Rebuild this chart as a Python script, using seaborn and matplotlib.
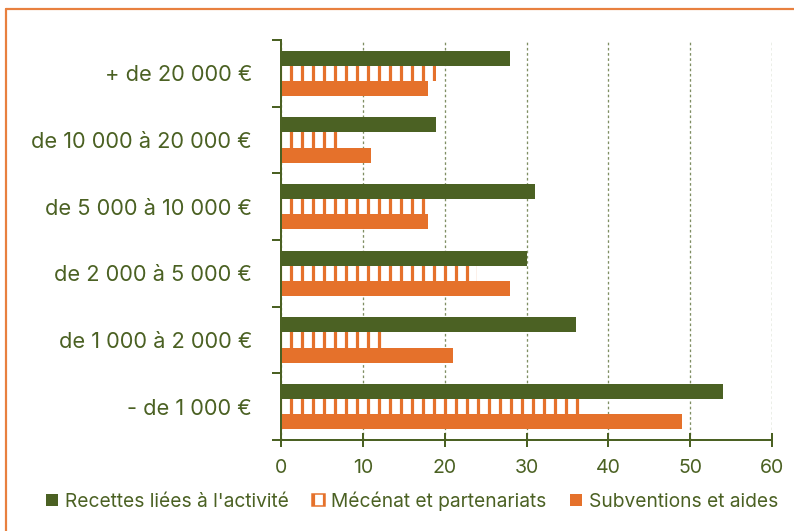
import matplotlib
matplotlib.use("Agg")
import matplotlib.pyplot as plt
import seaborn as sns
import pandas as pd
from matplotlib.patches import Patch
from matplotlib.lines import Line2D

categories = ["+ de 20 000 €", "de 10 000 à 20 000 €", "de 5 000 à 10 000 €",
              "de 2 000 à 5 000 €", "de 1 000 à 2 000 €", "- de 1 000 €"]
series = ["Recettes liées à l'activité", "Mécénat et partenariats", "Subventions et aides"]
recettes = [28, 19, 31, 30, 36, 54]
mecenat = [19, 7, 18, 24, 13, 37]
subventions = [18, 11, 18, 28, 21, 49]
xticks = [0, 10, 20, 30, 40, 50, 60]

GREEN = "#4b6123"
ORANGE = "#e5712b"
FRAME = "#e8803f"
GRID = "#7f8e62"

DPI = 66
def px(v):
    return v * 72.0 / DPI

sns.set_theme(style="white")
plt.rcParams["font.family"] = ["Inter", "DejaVu Sans"]
plt.rcParams["hatch.linewidth"] = px(3.2)

rows = []
for vals, name in zip([recettes, mecenat, subventions], series):
    for c, v in zip(categories, vals):
        rows.append({"cat": c, "serie": name, "val": v})
df = pd.DataFrame(rows)

fig = plt.figure(figsize=(794 / DPI, 531 / DPI), dpi=DPI)
fig.patch.set_facecolor("white")
ax = fig.add_axes([281 / 794, 1 - 440 / 531, (772 - 281) / 794, 400 / 531])

sns.barplot(data=df, y="cat", x="val", hue="serie", order=categories,
            hue_order=series, palette=[GREEN, ORANGE, ORANGE], orient="h",
            width=0.68, ax=ax, legend=False, saturation=1, errorbar=None)

for p in ax.containers[1]:
    p.set_facecolor("white")
    p.set_edgecolor(ORANGE)
    p.set_linewidth(0)
    p.set_hatch("|")
for c in (ax.containers[0], ax.containers[2]):
    for p in c:
        p.set_linewidth(0)

ax.set_xlim(0, 60)
ax.set_ylim(len(categories) - 0.5, -0.5)
ax.set_xticks(xticks)
ax.set_xticklabels([str(t) for t in xticks])
ax.set_xlabel("")
ax.set_ylabel("")

ax.set_yticks(range(len(categories)))
ax.set_yticklabels(categories)
ax.set_yticks([i - 0.5 for i in range(len(categories) + 1)], minor=True)
ax.tick_params(axis="y", which="major", length=0, pad=px(29),
               labelsize=px(21.8), labelcolor=GREEN)
ax.tick_params(axis="y", which="minor", length=px(9), width=px(2), color=GREEN,
               direction="out", left=True)
ax.tick_params(axis="x", which="major", direction="inout", length=px(14),
               width=px(2), color=GREEN, labelsize=px(19.5), labelcolor=GREEN,
               pad=px(12), bottom=True)

for s in ["top", "right"]:
    ax.spines[s].set_visible(False)
for s in ["left", "bottom"]:
    ax.spines[s].set_color(GREEN)
    ax.spines[s].set_linewidth(px(2))

ax.set_axisbelow(True)
ax.grid(axis="x", color=GRID, linestyle=(0, (2, 2)), linewidth=px(1.3))
ax.grid(axis="y", visible=False)

handles = [Patch(facecolor=GREEN, edgecolor=GREEN, linewidth=0),
           Patch(facecolor="white", edgecolor=ORANGE, hatch="|", linewidth=px(1.5)),
           Patch(facecolor=ORANGE, edgecolor=ORANGE, linewidth=0)]
leg = fig.legend(handles, series, loc="center", bbox_to_anchor=(412 / 794, 1 - 501 / 531),
                 ncol=3, frameon=False, fontsize=px(19.2), handlelength=0.65,
                 handleheight=0.65, handletextpad=0.35, columnspacing=1.2,
                 borderaxespad=0)
for t in leg.get_texts():
    t.set_color(GREEN)

fig.add_artist(Line2D([6 / 794, 1.0], [1 - 9 / 531, 1 - 9 / 531], color=FRAME,
                      linewidth=px(2.2), transform=fig.transFigure))
fig.add_artist(Line2D([6 / 794, 6 / 794], [0.0, 1 - 9 / 531], color=FRAME,
                      linewidth=px(2.2), transform=fig.transFigure))

fig.savefig("out.png", dpi=DPI, facecolor="white")
